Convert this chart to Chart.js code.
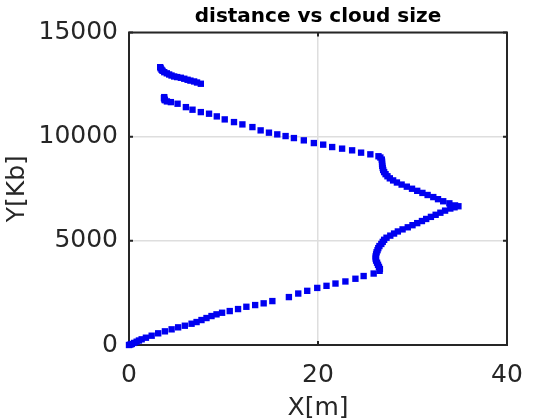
<!DOCTYPE html>
<html><head><meta charset="utf-8">
<script src="https://cdn.jsdelivr.net/npm/chart.js@4/dist/chart.umd.min.js"></script>
<style>html,body{margin:0;padding:0;background:#fff}#wrap{width:560px;height:420px}</style>
</head><body><div id="wrap"><canvas id="c" width="560" height="420"></canvas></div>
<script>
const titleText = 'distance vs cloud size';
const xLabel = 'X[m]';
const yLabel = 'Y[Kb]';
const xTicks = [0, 20, 40];
const yTicks = [0, 5000, 10000, 15000];

// lower sparse branch
const xLower = [0,0.15,0.3,0.55,0.81,1.05,1.34,1.79,2.40,3.09,3.80,4.51,5.20,5.91,6.62,7.15,7.67,8.20,8.73,9.26,9.85,10.66,11.54,12.42,13.35,14.25,15.17,16.92,17.91,18.86,19.92,20.90,21.85,22.90,23.96,24.83,25.89,26.52];
const yLower = [0,20,50,100,158,215,273,350,446,561,656,752,848,925,1021,1102,1198,1294,1390,1471,1548,1629,1725,1835,1917,2000,2108,2300,2470,2600,2740,2840,2950,3050,3180,3310,3430,3560];
// dense bulge
const xBulge = [26.55,26.45,26.35,26.25,26.15,26.1,26.1,26.15,26.2,26.3,26.38,26.5,26.7,26.85,27.0,27.25,27.65,28.05,28.45,28.95,29.5,30.0,30.5,31.0,31.45,31.95,32.45,32.95,33.45,34.0,34.45,34.86,34.5,33.9,33.25,32.7,32.2,31.6,31.05,30.5,29.95,29.4,28.85,28.35,27.95,27.6,27.35,27.15,27.0,26.9,26.85,26.8,26.78,26.78,26.75,26.6,26.4];
const yBulge = [3650,3750,3850,3950,4050,4150,4250,4350,4450,4550,4650,4750,4850,4950,5050,5150,5250,5350,5450,5550,5650,5750,5850,5950,6050,6150,6250,6350,6450,6550,6610,6660,6700,6800,6900,7000,7100,7200,7300,7400,7500,7600,7700,7800,7900,8000,8100,8200,8300,8400,8500,8600,8700,8800,8900,9000,9060];
// upper sparse branch
const xUpper = [25.54,24.56,23.61,22.55,21.50,20.55,19.56,18.50,17.45,16.57,15.69,14.81,13.93,13.06,12.00,11.11,10.13,9.29,8.47,7.60,6.72,6.02,5.14,4.43,4.01,3.80,3.75,3.70,3.73];
const yUpper = [9152,9233,9344,9425,9502,9617,9693,9823,9933,10029,10110,10192,10302,10460,10589,10700,10829,10973,11102,11179,11294,11418,11581,11658,11692,11750,11787,11850,11898];
// top short arm
const xTop = [7.60,7.2,6.89,6.5,6.20,5.85,5.49,5.1,4.78,4.5,4.25,4.0,3.73,3.55,3.45,3.35,3.30];
const yTop = [12540,12600,12650,12690,12731,12780,12827,12860,12889,12935,12985,13040,13095,13160,13210,13280,13335];

const xValues = [].concat(xLower, xBulge, xUpper, xTop);
const yValues = [].concat(yLower, yBulge, yUpper, yTop);
const points = xValues.map((x, i) => ({x: x, y: yValues[i]}));

const AX = '#262626';
const FONT = 'DejaVu Sans';

const framePlugin = {
  id: 'frame',
  beforeDatasetsDraw(chart) {
    const {ctx, chartArea: a, scales} = chart;
    ctx.save();
    ctx.strokeStyle = AX;
    ctx.lineWidth = 2;
    ctx.beginPath();
    const tl = 4;
    xTicks.forEach(v => {
      const px = scales.x.getPixelForValue(v);
      ctx.moveTo(px, a.bottom); ctx.lineTo(px, a.bottom - tl);
      ctx.moveTo(px, a.top); ctx.lineTo(px, a.top + tl);
    });
    yTicks.forEach(v => {
      const py = scales.y.getPixelForValue(v);
      ctx.moveTo(a.left, py); ctx.lineTo(a.left + tl, py);
      ctx.moveTo(a.right, py); ctx.lineTo(a.right - tl, py);
    });
    ctx.stroke();
    ctx.strokeRect(a.left, a.top, a.right - a.left, a.bottom - a.top);
    // title centred over the axes
    ctx.fillStyle = '#000';
    ctx.font = 'bold 20px "' + FONT + '"';
    ctx.textAlign = 'center';
    ctx.textBaseline = 'middle';
    ctx.fillText(titleText, (a.left + a.right) / 2, 17);
    ctx.restore();
  }
};

new Chart(document.getElementById('c'), {
  type: 'scatter',
  data: {
    datasets: [{
      data: points,
      showLine: false,
      pointStyle: 'rect',
      pointRadius: 4.5,
      pointHoverRadius: 4.5,
      pointBorderWidth: 0,
      backgroundColor: '#0000f0',
      borderColor: '#0000f0',
      clip: false
    }]
  },
  options: {
    responsive: false,
    animation: false,
    devicePixelRatio: 1,
    layout: {padding: {left: 0, right: 53, top: 32.5, bottom: 0}},
    plugins: {
      legend: {display: false},
      tooltip: {enabled: false},
      title: {display: false}
    },
    scales: {
      x: {
        type: 'linear', min: 0, max: 40,
        afterBuildTicks: s => { s.ticks = xTicks.map(v => ({value: v})); },
        afterFit: s => { s.height = 75; },
        grid: {color: '#dedede', lineWidth: 1.5, drawTicks: false},
        border: {display: false},
        ticks: {color: AX, padding: 15, font: {family: FONT, size: 25}, maxRotation: 0, callback: v => String(v)},
        title: {display: true, text: xLabel, color: AX, font: {family: FONT, size: 25}, padding: {top: 0, bottom: -3}}
      },
      y: {
        type: 'linear', min: 0, max: 15000,
        afterBuildTicks: s => { s.ticks = yTicks.map(v => ({value: v})); },
        afterFit: s => { s.width = 129; },
        grid: {color: '#dedede', lineWidth: 1.5, drawTicks: false},
        border: {display: false},
        ticks: {color: AX, padding: 11, font: {family: FONT, size: 25}, callback: v => String(v)},
        title: {display: true, text: yLabel, color: AX, font: {family: FONT, size: 25}, padding: {top: 2, bottom: 0}}
      }
    }
  },
  plugins: [framePlugin]
});
</script>
</body></html>
